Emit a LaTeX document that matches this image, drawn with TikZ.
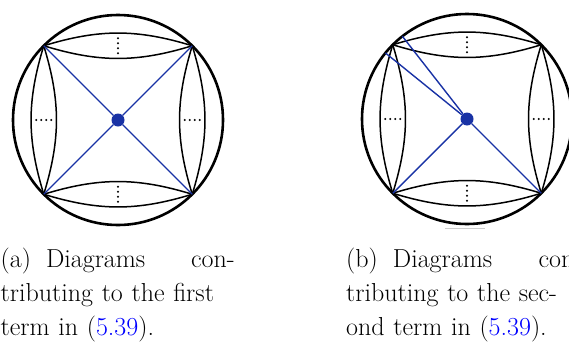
\documentclass[tikz,border=0pt]{standalone}
\usepackage{tikz}
\usetikzlibrary{positioning,calc}
\definecolor{linkblue}{rgb}{0,0,1}
\definecolor{vertblue}{RGB}{25,50,165}

\begin{document}
\begin{tikzpicture}[x=1pt, y=-1pt,
    outer/.style={line width=2.6pt},
    lens/.style={line width=1.5pt},
    prop/.style={line width=1.4pt, draw=vertblue},
    vertex/.style={circle, fill=vertblue, inner sep=0pt, minimum size=13pt},
    caption/.style={inner sep=0pt, anchor=base west, align=left, text width=236pt, font=\fontsize{26}{34}\selectfont}
]
\useasboundingbox (0,0) rectangle (569,343);
\clip (0,0) rectangle (569,343);

% Left diagram (a)
\coordinate (ao) at (118,120);
\draw[outer] (ao) circle[radius=105pt];
\coordinate (atl) at ($(ao)+(135:105pt)$);
\coordinate (atr) at ($(ao)+(45:105pt)$);
\coordinate (abl) at ($(ao)+(225:105pt)$);
\coordinate (abr) at ($(ao)+(315:105pt)$);

\draw[lens] (atl) to[bend left=17] (atr);
\draw[lens] (atl) to[bend right=17] (atr);
\draw[lens] (abl) to[bend left=17] (abr);
\draw[lens] (abl) to[bend right=17] (abr);
\draw[lens] (atl) to[bend left=17] (abl);
\draw[lens] (atl) to[bend right=17] (abl);
\draw[lens] (atr) to[bend left=17] (abr);
\draw[lens] (atr) to[bend right=17] (abr);

\foreach \d in {-7.5,-2.5,2.5,7.5} {
    \fill ($(ao)+(\d,0)+(180:74.2pt)$) circle[radius=1.1pt];
    \fill ($(ao)+(\d,0)+(0:74.2pt)$) circle[radius=1.1pt];
    \fill ($(ao)+(0,\d)+(90:74.2pt)$) circle[radius=1.1pt];
    \fill ($(ao)+(0,\d)+(270:74.2pt)$) circle[radius=1.1pt];
}

\node[vertex] (av) at (ao) {};
\draw[prop] (av) -- (atl);
\draw[prop] (av) -- (atr);
\draw[prop] (av) -- (abl);
\draw[prop] (av) -- (abr);

% Right diagram (b)
\coordinate (bo) at (467,119);
\draw[outer] (bo) circle[radius=105pt];
\coordinate (btl) at ($(bo)+(135:105pt)$);
\coordinate (btr) at ($(bo)+(45:105pt)$);
\coordinate (bbl) at ($(bo)+(225:105pt)$);
\coordinate (bbr) at ($(bo)+(315:105pt)$);
\coordinate (bup) at ($(bo)+(128:105pt)$);
\coordinate (blo) at ($(bo)+(141:105pt)$);

\draw[lens] (btl) to[bend left=17] (btr);
\draw[lens] (btl) to[bend right=17] (btr);
\draw[lens] (bbl) to[bend left=17] (bbr);
\draw[lens] (bbl) to[bend right=17] (bbr);
\draw[lens] (btl) to[bend left=17] (bbl);
\draw[lens] (btl) to[bend right=17] (bbl);
\draw[lens] (btr) to[bend left=17] (bbr);
\draw[lens] (btr) to[bend right=17] (bbr);

\foreach \d in {-7.5,-2.5,2.5,7.5} {
    \fill ($(bo)+(\d,0)+(180:74.2pt)$) circle[radius=1.1pt];
    \fill ($(bo)+(\d,0)+(0:74.2pt)$) circle[radius=1.1pt];
    \fill ($(bo)+(0,\d)+(90:74.2pt)$) circle[radius=1.1pt];
    \fill ($(bo)+(0,\d)+(270:74.2pt)$) circle[radius=1.1pt];
}

\node[vertex] (bv) at (bo) {};
\draw[prop] (bv) -- (bup);
\draw[prop] (bv) -- (blo);
\draw[prop] (bv) -- (bbl);
\draw[prop] (bv) -- (bbr);

\draw[gray!40, line width=1pt] ($(bo)+(-22,109)$) -- ($(bo)+(18,109)$);

% Captions
\node[caption] (capa) at (0.5,267) {\makebox[234pt][l]{(a)\hspace{15pt}Diagrams\hfill con-}\\
    \makebox[234pt][s]{tributing to the first}\\
    term in (\textcolor{linkblue}{5.39}).};
\node[caption] (capb) at (346,267) {\makebox[236pt][l]{(b)\hspace{15pt}Diagrams\hfill con-}\\
    \makebox[236pt][s]{tributing to the sec-}\\
    ond term in (\textcolor{linkblue}{5.39}).};

\end{tikzpicture}
\end{document}
